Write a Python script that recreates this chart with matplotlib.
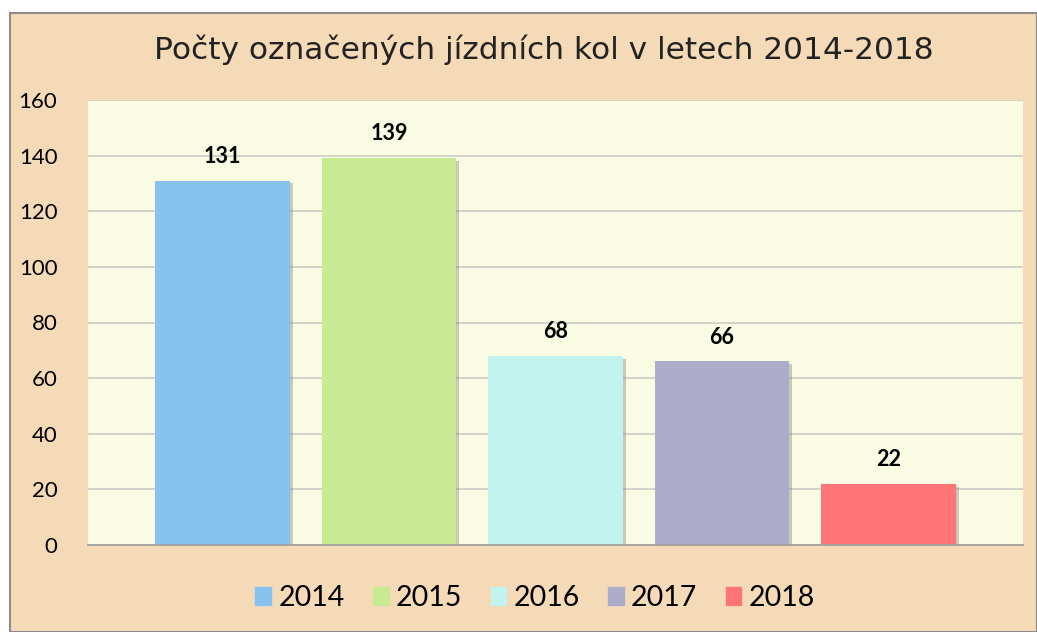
import matplotlib.pyplot as plt
import matplotlib.patheffects as pe
from matplotlib.patches import Rectangle

years = ["2014", "2015", "2016", "2017", "2018"]
counts = [131, 139, 68, 66, 22]
colors = ["#85C3EE", "#C8EA93", "#C3F3EE", "#ADADCB", "#FF7575"]

plt.rcParams['font.family'] = ['Lato', 'DejaVu Sans']

W, H = 1037, 632
fig = plt.figure(figsize=(W / 100, H / 100), dpi=100, facecolor="white")

# peach frame with grey border
frame = Rectangle((10 / W, 0), 1 - 10 / W, 1 - 13 / H, transform=fig.transFigure,
                  facecolor="#F5DAB8", edgecolor="#8C8C8C", linewidth=1.5, zorder=-5)
fig.patches.append(frame)

ax = fig.add_axes([88 / W, 1 - 545 / H, (1023 - 88) / W, (545 - 100) / H])
ax.set_zorder(2)
ax.set_facecolor("#FAFBE3")

x = list(range(len(years)))
shadow = [pe.SimplePatchShadow(offset=(2, -2), shadow_rgbFace="#808080", alpha=0.4), pe.Normal()]
bars = ax.bar(x, counts, width=0.81, color=colors, zorder=3)
for b in bars:
    b.set_path_effects(shadow)

for xi, v in zip(x, counts):
    ax.text(xi, v + 5, str(v), ha="center", va="bottom", fontsize=15.5,
            fontweight="bold", color="black", zorder=4)

ax.set_xlim(-0.808, 4.808)
ax.set_ylim(0, 160)
ax.set_yticks(range(0, 161, 20))
ax.set_xticks([])
ax.tick_params(axis="y", length=0, labelsize=16, pad=22)
ax.grid(axis="y", color="#D0D0C8", linewidth=1.3, zorder=1)
for s in ["top", "right", "left"]:
    ax.spines[s].set_visible(False)
ax.spines["bottom"].set_color("#A0A0A0")
ax.spines["bottom"].set_linewidth(1.3)
ax.spines["bottom"].set_zorder(5)

fig.text(544 / W, 1 - 50 / H, "Počty označených jízdních kol v letech 2014-2018",
         ha="center", va="center", fontsize=22.5, color="#222222", family="DejaVu Sans")

handles = [Rectangle((0, 0), 1, 1, color=c) for c in colors]
fig.legend(handles, years, loc="center", bbox_to_anchor=(535 / W, 1 - 598 / H),
           ncol=5, frameon=False, fontsize=20.5, handlelength=0.55, handleheight=0.55,
           handletextpad=0.25, columnspacing=1.0)

fig.savefig("out.png", dpi=100, facecolor=fig.get_facecolor())
